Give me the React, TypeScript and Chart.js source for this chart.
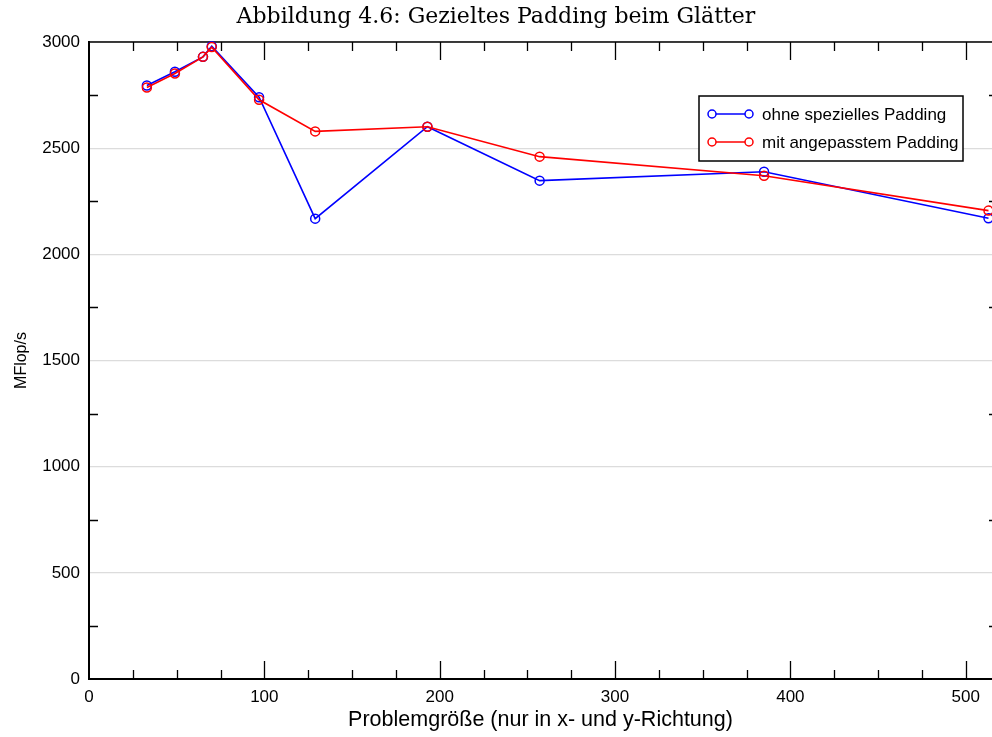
import React, { useEffect, useRef } from "react";
import { Chart, registerables } from "chart.js";

Chart.register(...registerables);

const titleText = "Abbildung 4.6: Gezieltes Padding beim Glätter";
const xTitle = "Problemgröße (nur in x- und y-Richtung)";
const yTitle = "MFlop/s";

const sizes = [33, 49, 65, 70, 97, 129, 193, 257, 385, 513];
const ohnePadding = [2795, 2860, 2930, 2980, 2740, 2168, 2601, 2347, 2389, 2170];
const mitPadding = [2786, 2852, 2930, 2976, 2728, 2579, 2601, 2460, 2370, 2206];
const seriesLabels = ["ohne spezielles Padding", "mit angepasstem Padding"];
const seriesColors = ["#0000ff", "#ff0000"];

const xMin = 0;
const xMax = 515;
const xMajorStep = 100;
const xMinorStep = 25;
const yMin = 0;
const yMax = 3000;
const yMajorStep = 500;
const yMinorStep = 250;

const SANS = "'Liberation Sans', Arial, sans-serif";
const SERIF = "'DejaVu Serif', 'Liberation Serif', serif";

const framePlugin = {
  id: "frameTicks",
  beforeDatasetsDraw(chart: any) {
    const { ctx, chartArea } = chart;
    const xs = chart.scales.x;
    const ys = chart.scales.y;
    const { left, right, top, bottom } = chartArea;
    ctx.save();
    ctx.strokeStyle = "#000";
    ctx.lineWidth = 1.6;
    ctx.beginPath();
    ctx.moveTo(left, top);
    ctx.lineTo(right, top);
    ctx.stroke();
    ctx.lineWidth = 1.3;
    ctx.beginPath();
    for (let v = xMin + xMinorStep; v < xMax; v += xMinorStep) {
      const px = Math.round(xs.getPixelForValue(v)) + 0.5;
      const len = v % xMajorStep === 0 ? 18 : 9;
      ctx.moveTo(px, bottom);
      ctx.lineTo(px, bottom - len);
      ctx.moveTo(px, top);
      ctx.lineTo(px, top + len);
    }
    for (let v = yMin + yMinorStep; v < yMax; v += yMinorStep) {
      if (v % yMajorStep === 0) continue;
      const py = Math.round(ys.getPixelForValue(v)) + 0.5;
      ctx.moveTo(left, py);
      ctx.lineTo(left + 9, py);
      ctx.moveTo(right, py);
      ctx.lineTo(right - 3, py);
    }
    ctx.stroke();
    ctx.restore();
  },
  afterDraw(chart: any) {
    const { ctx, chartArea } = chart;
    const boxW = 264;
    const boxH = 65;
    const bx = chartArea.right - 29 - boxW;
    const by = chartArea.top + 54;
    ctx.save();
    ctx.fillStyle = "#fff";
    ctx.fillRect(bx, by, boxW, boxH);
    ctx.strokeStyle = "#000";
    ctx.lineWidth = 1.5;
    ctx.strokeRect(bx, by, boxW, boxH);
    ctx.font = `17px ${SANS}`;
    ctx.textBaseline = "middle";
    ctx.textAlign = "left";
    chart.data.datasets.forEach((ds: any, i: number) => {
      const cy = by + 18 + i * 28;
      const x1 = bx + 13;
      const x2 = bx + 50;
      ctx.strokeStyle = ds.borderColor;
      ctx.lineWidth = 1.5;
      ctx.beginPath();
      ctx.moveTo(x1, cy);
      ctx.lineTo(x2, cy);
      ctx.stroke();
      [x1, x2].forEach((cx) => {
        ctx.beginPath();
        ctx.arc(cx, cy, 4, 0, Math.PI * 2);
        ctx.fillStyle = "#fff";
        ctx.fill();
        ctx.stroke();
      });
      ctx.fillStyle = "#000";
      ctx.fillText(ds.label, bx + 63, cy + 1);
    });
    ctx.restore();
  },
};

export default function App() {
  const ref = useRef<HTMLCanvasElement>(null);
  useEffect(() => {
    if (!ref.current) return;
    const mk = (ys: number[], i: number) => ({
      label: seriesLabels[i],
      data: sizes.map((x, k) => ({ x, y: ys[k] })),
      borderColor: seriesColors[i],
      backgroundColor: "rgba(0,0,0,0)",
      borderWidth: 1.6,
      pointRadius: 4.5,
      pointBorderWidth: 1.5,
      pointBackgroundColor: "rgba(0,0,0,0)",
      pointBorderColor: seriesColors[i],
      tension: 0,
      clip: false,
      order: 2 - i,
    });
    const chart = new Chart(ref.current, {
      type: "line",
      data: { datasets: [mk(ohnePadding, 0), mk(mitPadding, 1)] },
      options: {
        animation: false,
        responsive: false,
        maintainAspectRatio: false,
        layout: { padding: 0, autoPadding: false },
        plugins: {
          legend: { display: false },
          tooltip: { enabled: false },
          title: {
            display: true,
            text: titleText,
            color: "#000",
            font: { family: SERIF, size: 22, weight: "normal" },
            padding: { top: 4, bottom: 11.6 },
          },
        },
        scales: {
          x: {
            type: "linear",
            min: xMin,
            max: xMax,
            afterFit: (s: any) => {
              s.height = 58;
              s.paddingRight = 0;
              s.paddingLeft = 0;
            },
            ticks: {
              stepSize: xMajorStep,
              includeBounds: false,
              color: "#000",
              padding: 8,
              font: { family: SANS, size: 17 },
              maxRotation: 0,
              callback: (v: any) => String(v),
            },
            grid: { display: false, drawTicks: false },
            border: { display: true, color: "#000", width: 2 },
            title: {
              display: true,
              text: xTitle,
              color: "#000",
              font: { family: SANS, size: 21.5 },
              padding: { top: 0, bottom: 4 },
            },
          },
          y: {
            type: "linear",
            min: yMin,
            max: yMax,
            afterFit: (s: any) => {
              s.width = 89;
            },
            ticks: {
              stepSize: yMajorStep,
              color: "#000",
              padding: 9,
              font: { family: SANS, size: 17 },
              callback: (v: any) => String(v),
            },
            grid: { color: "#dcdcdc", lineWidth: 1.2, drawTicks: false },
            border: { display: true, color: "#000", width: 2 },
            title: {
              display: true,
              text: yTitle,
              color: "#000",
              font: { family: SANS, size: 16 },
              padding: { top: 12, bottom: 0 },
            },
          },
        },
      },
      plugins: [framePlugin],
    });
    return () => chart.destroy();
  }, []);
  return (
    <div style={{ position: "fixed", left: 0, top: 0, width: 992, height: 737, background: "#fff" }}>
      <canvas ref={ref} width={992} height={737} style={{ display: "block" }} />
    </div>
  );
}
